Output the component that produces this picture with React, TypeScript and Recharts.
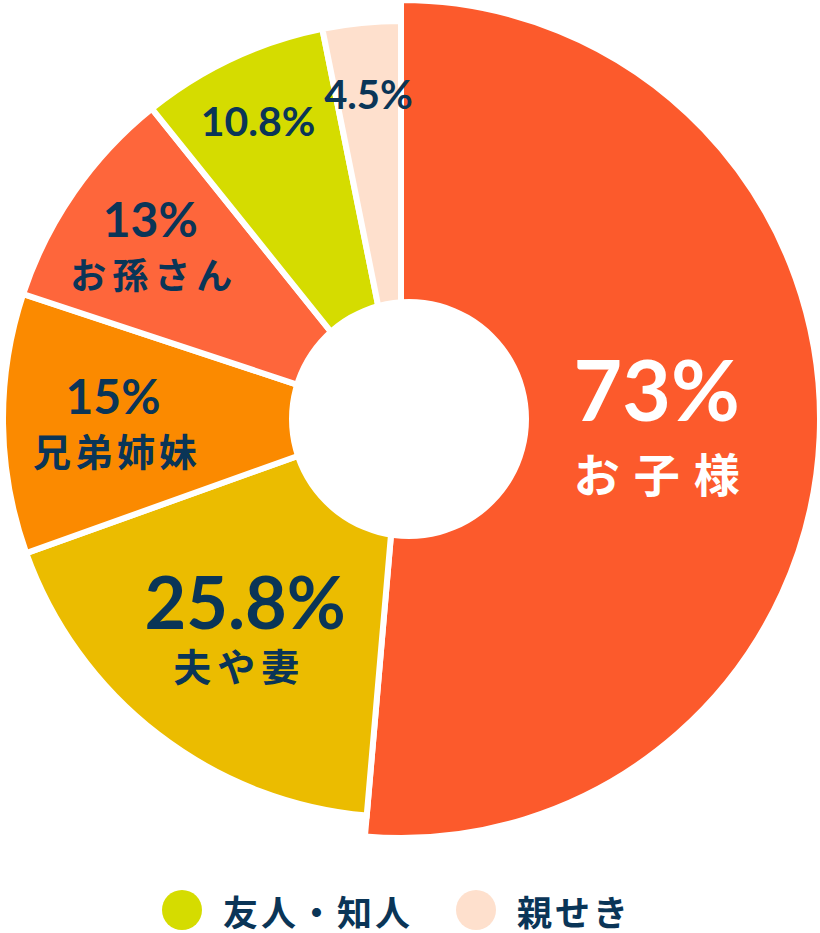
import React from "react";
import { PieChart, Pie, Cell, Legend } from "recharts";

document.body.style.margin = "0";

// data
const categories = ["お子様", "夫や妻", "兄弟姉妹", "お孫さん", "友人・知人", "親せき"];
const values = [73, 25.8, 15, 13, 10.8, 4.5];
const percentLabels = ["73%", "25.8%", "15%", "13%", "10.8%", "4.5%"];
const legendNames = ["友人・知人", "親せき"];

const COLORS = ["#FC5A2C", "#EBBC00", "#FB8A00", "#FE663B", "#D5DC00", "#FEE0CD"];
const NAVY = "#0A3557";

// label styling, per slice
const LABEL_R = [256, 270, 286, 304, 330, 327];
const PCT_SIZE = [84, 72, 48, 48, 41, 40];
const PCT_DX = [0, 9, -2, -1, -3, 0];
const NAME_SIZE = [46, 38, 38, 36, 0, 0];
const NAME_SPACING = [14, 6, 4, 6, 0, 0];
const LINE_OFFSET = [42, 32, 27, 27, 0, 0];
const LABEL_FILL = ["#fff", NAVY, NAVY, NAVY, NAVY, NAVY];

const data = categories.map((name, i) => ({ name, value: values[i] }));
const RADIAN = Math.PI / 180;
const NUM_FONT = "Lato, 'Noto Sans', sans-serif";
const JP_FONT = "'Noto Sans CJK JP', sans-serif";

const makeLabel = (which: (i: number) => boolean) => (props: any) => {
  const { cx, cy, midAngle, index } = props;
  if (!which(index)) return null;
  const r = LABEL_R[index];
  const x = cx + r * Math.cos(-midAngle * RADIAN);
  const y = cy + r * Math.sin(-midAngle * RADIAN);
  const off = LINE_OFFSET[index];
  return (
    <g>
      <text x={x + PCT_DX[index]} y={y - off} textAnchor="middle" dominantBaseline="central"
        fontFamily={NUM_FONT} fontWeight={700} fontSize={PCT_SIZE[index]} fill={LABEL_FILL[index]}>
        {percentLabels[index]}
      </text>
      {NAME_SIZE[index] > 0 && (
        <text x={x + NAME_SPACING[index] / 2} y={y + off} textAnchor="middle" dominantBaseline="central"
          fontFamily={JP_FONT} fontWeight={700} fontSize={NAME_SIZE[index]} letterSpacing={NAME_SPACING[index]}
          fill={LABEL_FILL[index]}>
          {categories[index]}
        </text>
      )}
    </g>
  );
};

const LegendContent = () => (
  <div style={{ display: "flex", alignItems: "center", paddingLeft: 162, height: 40 }}>
    {legendNames.map((n) => {
      const i = categories.indexOf(n);
      return (
        <div key={n} style={{ display: "flex", alignItems: "center", marginRight: 43 }}>
          <span style={{ width: 40, height: 40, borderRadius: 20, background: COLORS[i], display: "inline-block" }} />
          <span style={{ marginLeft: 21, fontFamily: JP_FONT, fontWeight: 700, fontSize: 35, letterSpacing: 3, color: NAVY, lineHeight: 1 }}>
            {n}
          </span>
        </div>
      );
    })}
  </div>
);

export default function App() {
  return (
    <PieChart width={820} height={933} margin={{ top: 0, right: 0, bottom: 0, left: 0 }}>
      <Pie data={data} dataKey="value" nameKey="name" cx={401} cy={419} startAngle={90} endAngle={-270}
        innerRadius={100} outerRadius={419} stroke="#fff" strokeWidth={6}
        label={makeLabel((i) => i === 0)} labelLine={false} isAnimationActive={false}>
        {data.map((d, i) => (
          <Cell key={d.name} fill={i === 0 ? COLORS[i] : "transparent"} stroke={i === 0 ? "#fff" : "none"} />
        ))}
      </Pie>
      <Pie data={data} dataKey="value" nameKey="name" cx={401} cy={419} startAngle={90} endAngle={-270}
        innerRadius={100} outerRadius={398} stroke="#fff" strokeWidth={6}
        label={makeLabel((i) => i !== 0)} labelLine={false} isAnimationActive={false}>
        {data.map((d, i) => (
          <Cell key={d.name} fill={i === 0 ? "transparent" : COLORS[i]} stroke={i === 0 ? "none" : "#fff"} />
        ))}
      </Pie>
      {/* the hole sits a little right of the pie centre */}
      <Pie data={[{ name: "hole", value: 1 }]} dataKey="value" cx={409} cy={419} innerRadius={0} outerRadius={120}
        fill="#fff" stroke="none" isAnimationActive={false} />
      <Legend content={LegendContent} wrapperStyle={{ top: 890, left: 0, width: 820 }} />
    </PieChart>
  );
}
